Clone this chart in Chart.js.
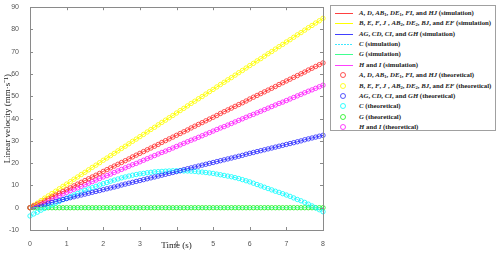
<!DOCTYPE html>
<html>
<head>
<meta charset="utf-8">
<script src="https://cdn.jsdelivr.net/npm/chart.js@4.4.1/dist/chart.umd.min.js"></script>
<style>
body { margin: 0; background: #fff; }
#wrap { position: relative; width: 500px; height: 254px; }
#legend { position: absolute; left: 330px; top: 5px; width: 166px; height: 126px; border: 1px solid #a0a0a0; box-sizing: border-box; background: #fff;
  font: bold 6.8px "Liberation Serif", serif; color: #222; overflow: hidden; }
.row { position: absolute; left: 0; width: 164px; height: 10px; line-height: 10px; white-space: nowrap; }
.sw { position: absolute; left: 4px; top: 5px; width: 18px; height: 1px; }
.mk { position: absolute; left: 9px; top: 2px; width: 4px; height: 4px; border: 1px solid; border-radius: 50%; }
.tx { position: absolute; left: 28px; top: 0; }
sub { font-size: 4.5px; vertical-align: -1px; line-height: 0; }
</style>
</head>
<body>
<div id="wrap">
  <canvas id="chart" width="500" height="254"></canvas>
  <div id="legend"></div>
</div>
<script>
// time axis (s)
const times = [0,0.1,0.2,0.3,0.4,0.5,0.6,0.7,0.8,0.9,1,1.1,1.2,1.3,1.4,1.5,1.6,1.7,1.8,1.9,2,2.1,2.2,2.3,2.4,2.5,2.6,2.7,2.8,2.9,3,
  3.1,3.2,3.3,3.4,3.5,3.6,3.7,3.8,3.9,4,4.1,4.2,4.3,4.4,4.5,4.6,4.7,4.8,4.9,5,5.1,5.2,5.3,5.4,5.5,5.6,5.7,5.8,5.9,6,
  6.1,6.2,6.3,6.4,6.5,6.6,6.7,6.8,6.9,7,7.1,7.2,7.3,7.4,7.5,7.6,7.7,7.8,7.9,8];

// linear velocity (mm/s)
const velA = [0,0.8,1.6,2.4,3.3,4.1,4.9,5.7,6.5,7.3,8.1,8.9,9.8,10.6,11.4,12.2,13.0,13.8,14.6,15.4,16.3,17.1,17.9,18.7,19.5,20.3,21.1,21.9,22.8,23.6,24.4,
  25.2,26.0,26.8,27.6,28.4,29.3,30.1,30.9,31.7,32.5,33.3,34.1,34.9,35.8,36.6,37.4,38.2,39.0,39.8,40.6,41.4,42.3,43.1,43.9,44.7,45.5,46.3,47.1,47.9,48.8,
  49.6,50.4,51.2,52.0,52.8,53.6,54.4,55.3,56.1,56.9,57.7,58.5,59.3,60.1,60.9,61.8,62.6,63.4,64.2,65.0];
const velB = [0,1.1,2.1,3.2,4.3,5.3,6.4,7.4,8.5,9.6,10.6,11.7,12.8,13.8,14.9,15.9,17.0,18.1,19.1,20.2,21.3,22.3,23.4,24.4,25.5,26.6,27.6,28.7,29.8,30.8,31.9,
  32.9,34.0,35.1,36.1,37.2,38.3,39.3,40.4,41.4,42.5,43.6,44.6,45.7,46.8,47.8,48.9,49.9,51.0,52.1,53.1,54.2,55.3,56.3,57.4,58.4,59.5,60.6,61.6,62.7,63.8,
  64.8,65.9,66.9,68.0,69.1,70.1,71.2,72.3,73.3,74.4,75.4,76.5,77.6,78.6,79.7,80.8,81.8,82.9,83.9,85.0];
const velAG = [0,0.4,0.8,1.2,1.6,2.0,2.4,2.8,3.2,3.7,4.1,4.5,4.9,5.3,5.7,6.1,6.5,6.9,7.3,7.7,8.1,8.5,8.9,9.3,9.7,10.2,10.6,11.0,11.4,11.8,12.2,
  12.6,13.0,13.4,13.8,14.2,14.6,15.0,15.4,15.8,16.2,16.6,17.1,17.5,17.9,18.3,18.7,19.1,19.5,19.9,20.3,20.7,21.1,21.5,21.9,22.3,22.7,23.1,23.5,24.0,24.4,
  24.8,25.2,25.6,26.0,26.4,26.8,27.2,27.6,28.0,28.4,28.8,29.2,29.6,30.0,30.5,30.9,31.3,31.7,32.1,32.5];
const velC = [-3.7,-2.8,-2.0,-1.1,-0.3,0.5,1.3,2.1,2.8,3.6,4.3,5.0,5.7,6.4,7.1,7.8,8.4,9.0,9.6,10.2,10.8,11.3,11.9,12.4,12.9,13.4,13.8,14.2,14.6,14.9,15.2,
  15.4,15.7,15.9,16.1,16.2,16.3,16.4,16.5,16.6,16.6,16.6,16.5,16.5,16.4,16.3,16.1,16.0,15.8,15.6,15.4,15.1,14.8,14.5,14.2,13.9,13.5,13.1,12.6,12.1,11.6,
  11.0,10.4,9.8,9.2,8.6,8.0,7.4,6.9,6.3,5.7,5.1,4.4,3.7,3.1,2.4,1.6,0.8,-0.1,-0.9,-1.8];
const velG = [0,0,0,0,0,0,0,0,0,0,0,0,0,0,0,0,0,0,0,0,0,0,0,0,0,0,0,0,0,0,0,
  0,0,0,0,0,0,0,0,0,0,0,0,0,0,0,0,0,0,0,0,0,0,0,0,0,0,0,0,0,0,
  0,0,0,0,0,0,0,0,0,0,0,0,0,0,0,0,0,0,0,0];
const velH = [0,0.7,1.4,2.1,2.8,3.4,4.1,4.8,5.5,6.2,6.9,7.6,8.3,8.9,9.6,10.3,11.0,11.7,12.4,13.1,13.8,14.4,15.1,15.8,16.5,17.2,17.9,18.6,19.3,19.9,20.6,
  21.3,22.0,22.7,23.4,24.1,24.8,25.4,26.1,26.8,27.5,28.2,28.9,29.6,30.3,30.9,31.6,32.3,33.0,33.7,34.4,35.1,35.8,36.4,37.1,37.8,38.5,39.2,39.9,40.6,41.3,
  41.9,42.6,43.3,44.0,44.7,45.4,46.1,46.8,47.4,48.1,48.8,49.5,50.2,50.9,51.6,52.3,52.9,53.6,54.3,55.0];

const groupNames = [
  '<i>A</i>, <i>D</i>, <i>AB</i><sub>1</sub>, <i>DE</i><sub>1</sub>, <i>FI</i>, and <i>HJ</i>',
  '<i>B</i>, <i>E</i>, <i>F</i>, <i>J</i> , <i>AB</i><sub>2</sub>, <i>DE</i><sub>2</sub>, <i>BJ</i>, and <i>EF</i>',
  '<i>AG</i>, <i>CD</i>, <i>CI</i>, and <i>GH</i>',
  '<i>C</i>',
  '<i>G</i>',
  '<i>H</i> and <i>I</i>'
];
const groupValues = [velA, velB, velAG, velC, velG, velH];
const groupColors = ['#ff4040', '#ffff00', '#4040ff', '#40e8ff', '#40ff90', '#ff40ff'];
const markColors = ['rgba(255,40,40,0.8)', 'rgba(255,255,0,0.85)', 'rgba(30,30,255,0.75)', 'rgba(0,255,255,0.8)', 'rgba(20,240,20,0.8)', 'rgba(255,0,255,0.75)'];

function points(vals) {
  return times.map((t, i) => ({ x: t, y: vals[i] }));
}

var datasets = [];
for (var i = 0; i < groupValues.length; i++) {
  datasets.push({
    label: 'sim' + i,
    data: points(groupValues[i]),
    borderColor: groupColors[i],
    borderWidth: 1,
    borderDash: i == 3 ? [2, 1] : [],
    pointRadius: 0,
    fill: false
  });
}
for (var i = 0; i < groupValues.length; i++) {
  datasets.push({
    label: 'theo' + i,
    data: points(groupValues[i]),
    showLine: false,
    pointRadius: 2.2,
    pointBorderWidth: 1,
    pointBorderColor: markColors[i],
    pointBackgroundColor: 'rgba(0,0,0,0)',
    clip: 4
  });
}

// box round the plot with inward ticks, like the original
const frame = {
  id: 'frame',
  afterDraw(chart) {
    const c = chart.ctx, a = chart.chartArea;
    const xs = chart.scales.x, ys = chart.scales.y;
    c.save();
    c.strokeStyle = '#8a8a8a';
    c.lineWidth = 1;
    c.strokeRect(Math.round(a.left) + 0.5, Math.round(a.top) + 0.5, Math.round(a.right - a.left), Math.round(a.bottom - a.top));
    c.beginPath();
    xs.ticks.forEach(t => {
      const px = Math.round(xs.getPixelForValue(t.value)) + 0.5;
      c.moveTo(px, a.bottom); c.lineTo(px, a.bottom - 3);
      c.moveTo(px, a.top); c.lineTo(px, a.top + 3);
    });
    ys.ticks.forEach(t => {
      const py = Math.round(ys.getPixelForValue(t.value)) + 0.5;
      c.moveTo(a.left, py); c.lineTo(a.left + 3, py);
      c.moveTo(a.right, py); c.lineTo(a.right - 3, py);
    });
    c.stroke();
    c.restore();
  }
};

const tickFont = { size: 7, family: 'Liberation Sans' };

new Chart(document.getElementById('chart'), {
  type: 'line',
  data: { datasets: datasets },
  options: {
    responsive: false,
    animation: false,
    layout: { padding: { left: 0, right: 177, top: 7, bottom: 0 } },
    plugins: { legend: { display: false }, tooltip: { enabled: false } },
    scales: {
      x: {
        type: 'linear', min: 0, max: 8,
        ticks: { stepSize: 1, color: '#555', font: tickFont, padding: 2, maxRotation: 0 },
        grid: { display: false }, border: { display: false },
        title: { display: true, text: 'Time (s)', color: '#222', font: { size: 9, family: 'Liberation Serif' }, padding: { top: 0, bottom: 3 } },
        afterFit(s) { s.height = 24; }
      },
      y: {
        min: -10, max: 90,
        ticks: { stepSize: 10, color: '#555', font: tickFont, padding: 3 },
        grid: { display: false }, border: { display: false },
        title: { display: true, text: 'Linear velocity (mm\u00b7s\u207b\u00b9)', color: '#222', font: { size: 9, family: 'Liberation Serif' }, padding: { top: 2, bottom: 0 } },
        afterFit(s) { s.width = 30; }
      }
    }
  },
  plugins: [frame]
});

// legend (html, so italic letters and subscripts stay as text)
const legend = document.getElementById('legend');
const kinds = ['(simulation)', '(theoretical)'];
for (var k = 0; k < 2; k++) {
  for (var i = 0; i < groupNames.length; i++) {
    var n = k * 6 + i;
    var row = document.createElement('div');
    row.className = 'row';
    row.style.top = Math.round(1.7 + n * 10.4) + 'px';
    var bg = i == 3
      ? 'background:repeating-linear-gradient(90deg,' + groupColors[i] + ' 0 2px,transparent 2px 3px)'
      : 'background:' + groupColors[i];
    var mark = k == 0
      ? '<span class="sw" style="' + bg + '"></span>'
      : '<span class="mk" style="border-color:' + markColors[i] + '"></span>';
    row.innerHTML = mark + '<span class="tx">' + groupNames[i] + ' ' + kinds[k] + '</span>';
    legend.appendChild(row);
  }
}
</script>
</body>
</html>
